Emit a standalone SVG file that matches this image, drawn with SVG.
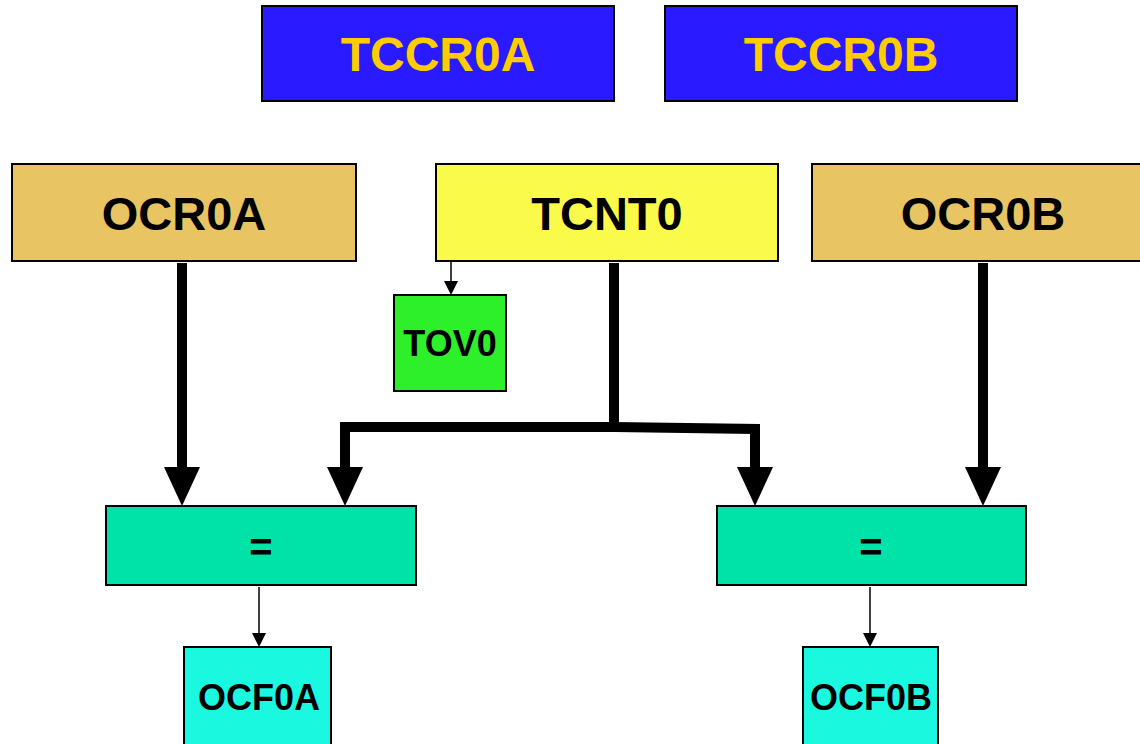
<svg xmlns="http://www.w3.org/2000/svg" width="1140" height="744" viewBox="0 0 1140 744">
<style>
.b{stroke:#000;stroke-width:2}
.t{font-family:"Liberation Sans",Arial,sans-serif;font-weight:bold;text-anchor:middle;fill:#000}
.thick{stroke:#000;stroke-width:10;fill:none}
.thin{stroke:#000;stroke-width:1.5;fill:none}
</style>
<defs>
<marker id="big" markerUnits="userSpaceOnUse" markerWidth="40" markerHeight="38" refX="0" refY="18" orient="auto" overflow="visible"><path d="M0,0L39,18L0,36Z" fill="#000"/></marker>
<marker id="sm" markerUnits="userSpaceOnUse" markerWidth="14" markerHeight="14" refX="0" refY="7" orient="auto" overflow="visible"><path d="M0,0L14,7L0,14Z" fill="#000"/></marker>
</defs>
<rect width="1140" height="744" fill="#fff"/>
<g id="connectors">
<line class="thick" x1="182" y1="263" x2="182" y2="467" marker-end="url(#big)"/>
<line class="thick" x1="983" y1="263" x2="983" y2="467" marker-end="url(#big)"/>
<polyline class="thick" points="614,263 614,427 345,427 345,467" marker-end="url(#big)"/>
<polyline class="thick" points="614,427 755,429 755,467" marker-end="url(#big)"/>
<line class="thin" x1="451" y1="261" x2="451" y2="281" marker-end="url(#sm)"/>
<line class="thin" x1="259" y1="587" x2="259" y2="633" marker-end="url(#sm)"/>
<line class="thin" x1="870" y1="587" x2="870" y2="633" marker-end="url(#sm)"/>
</g>
<g id="TCCR0A"><rect class="b" x="262" y="6" width="352" height="95" fill="#2a1aff"/><text class="t" x="438" y="71" font-size="48" style="fill:#ffcc00">TCCR0A</text></g>
<g id="TCCR0B"><rect class="b" x="665" y="6" width="352" height="95" fill="#2a1aff"/><text class="t" x="841" y="71" font-size="48" style="fill:#ffcc00">TCCR0B</text></g>
<g id="OCR0A"><rect class="b" x="12" y="164" width="344" height="97" fill="#e9c462"/><text class="t" x="184" y="230" font-size="47">OCR0A</text></g>
<g id="TCNT0"><rect class="b" x="436" y="164" width="342" height="97" fill="#fafa4a"/><text class="t" x="607" y="230" font-size="47">TCNT0</text></g>
<g id="OCR0B"><rect class="b" x="812" y="164" width="340" height="97" fill="#e9c462"/><text class="t" x="983" y="230" font-size="47">OCR0B</text></g>
<g id="TOV0"><rect class="b" x="394" y="295" width="112" height="96" fill="#2ef02a"/><text class="t" x="450" y="356" font-size="36">TOV0</text></g>
<g id="eqA"><rect class="b" x="106" y="506" width="310" height="79" fill="#00e3a8"/><text class="t" x="261" y="561" font-size="40">=</text></g>
<g id="eqB"><rect class="b" x="717" y="506" width="309" height="79" fill="#00e3a8"/><text class="t" x="871" y="561" font-size="40">=</text></g>
<g id="OCF0A"><rect class="b" x="184" y="647" width="147" height="98" fill="#1af9e0"/><text class="t" x="259" y="710" font-size="36">OCF0A</text></g>
<g id="OCF0B"><rect class="b" x="803" y="647" width="135" height="98" fill="#1af9e0"/><text class="t" x="871" y="710" font-size="36">OCF0B</text></g>
</svg>
